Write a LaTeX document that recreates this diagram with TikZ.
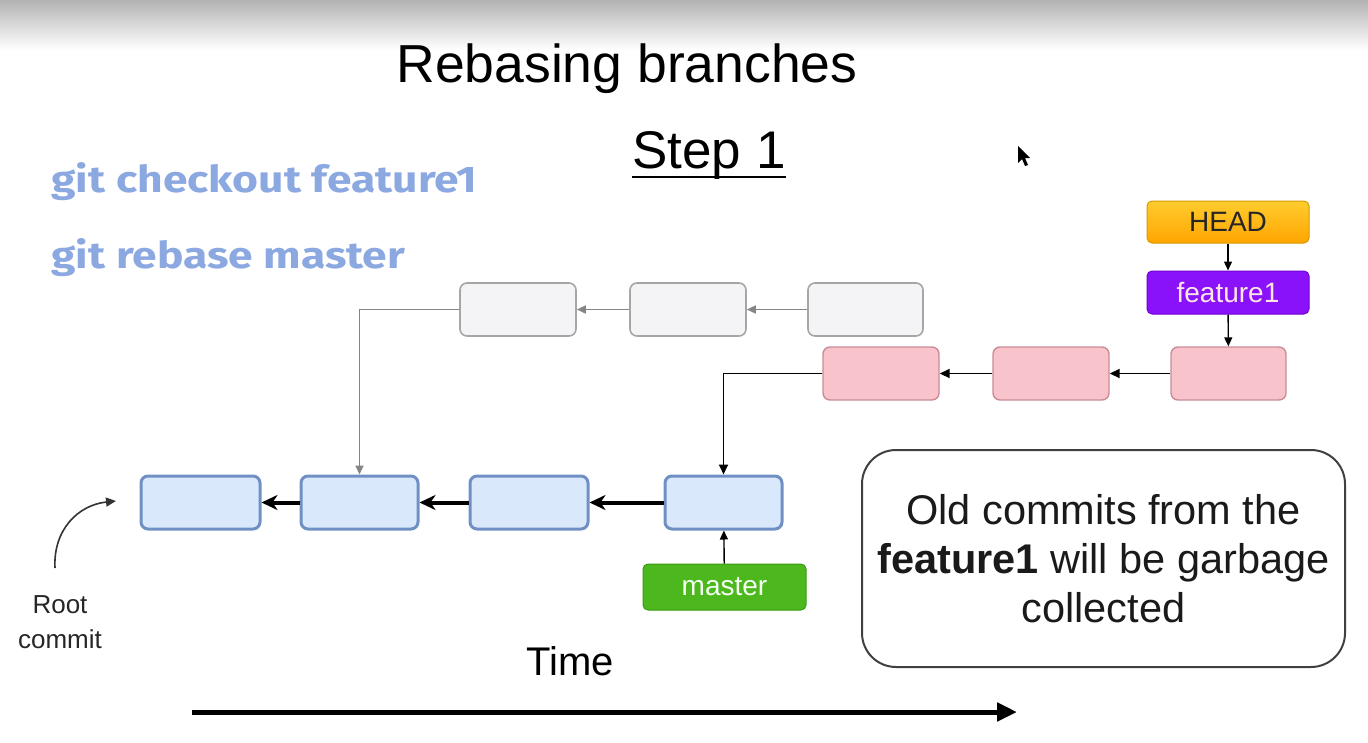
\documentclass[tikz,border=0pt]{standalone}
\usepackage{fontspec}
\setmainfont{Liberation Sans}
\newfontfamily\cmdfont{Fira Sans}[FakeStretch=1.2]
\usetikzlibrary{arrows.meta,calc}
\definecolor{bluefill}{HTML}{DAE8FC}
\definecolor{blueline}{HTML}{7090C4}
\definecolor{greyfill}{HTML}{F4F4F6}
\definecolor{greyline}{HTML}{A6A6A6}
\definecolor{greyarr}{HTML}{858585}
\definecolor{pinkfill}{HTML}{F8C3CB}
\definecolor{pinkline}{HTML}{C98C96}
\definecolor{headtop}{HTML}{FFCC2E}
\definecolor{headbot}{HTML}{FFA500}
\definecolor{headline}{HTML}{D99A00}
\definecolor{purplefill}{HTML}{8A12FA}
\definecolor{purpleline}{HTML}{7000D0}
\definecolor{greenfill}{HTML}{4DB81D}
\definecolor{greenline}{HTML}{3A9A12}
\definecolor{cmdblue}{HTML}{8CA8E0}
\definecolor{notetext}{HTML}{1A1A1A}
\begin{document}
\begin{tikzpicture}[x=1pt,y=-1pt,
  commit/.style={rectangle, rounded corners=7pt, minimum height=53pt, inner sep=0pt},
  bluecommit/.style={commit, fill=bluefill, draw=blueline, line width=3pt},
  greycommit/.style={commit, fill=greyfill, draw=greyline, line width=1.6pt},
  pinkcommit/.style={commit, fill=pinkfill, draw=pinkline, line width=1.4pt},
  label/.style={rectangle, rounded corners=5pt, minimum width=162pt, inner sep=0pt, font=\fontsize{28}{30}\selectfont},
  bluearrow/.style={line width=4pt, -{Stealth[length=16pt,width=15pt,inset=5pt]}},
  greyarrow/.style={draw=greyarr, line width=1.6pt, -{Triangle[length=9pt,width=8pt]}, greyarr},
  blackarrow/.style={draw=black, line width=1.8pt, -{Triangle[length=10pt,width=9pt]}},
  thinarrow/.style={draw=black, line width=1.4pt, -{Triangle[length=9pt,width=8pt]}},
  cmd/.style={text=cmdblue, anchor=base west, font=\cmdfont\bfseries\fontsize{37}{40}\selectfont},
  sans/.style={font=\fontsize{#1}{#1}\selectfont}
]
\useasboundingbox (0,0) rectangle (1368,742);
\shade[top color=black!30, bottom color=white] (0,0) rectangle (1368,50);

% titles
\node[sans=53.5, anchor=base] (title) at (627,82) {Rebasing branches};
\node[sans=53, anchor=base, inner sep=0pt] (step) at (709,168) {Step 1};
\draw[line width=2.6pt] ($(step.base west)+(0,9)$) -- ($(step.base east)+(0,9)$);

% commands
\node[cmd] (cmd1) at (48,192) {git checkout feature1};
\node[cmd] (cmd2) at (48,268) {git rebase master};

% cursor
\fill[black] (1018,146) -- (1018,163) -- (1022,159) -- (1025,166) -- (1028,165) -- (1025,158) -- (1030,158) -- cycle;

% blue commits
\node[bluecommit, minimum width=119pt] (b1) at (200.5,502.5) {};
\node[bluecommit, minimum width=117pt] (b2) at (359.5,502.5) {};
\node[bluecommit, minimum width=118pt] (b3) at (529,502.5) {};
\node[bluecommit, minimum width=117pt] (b4) at (723.5,502.5) {};

% grey commits
\node[greycommit, minimum width=116pt] (g1) at (518,309.5) {};
\node[greycommit, minimum width=116pt] (g2) at (688,309.5) {};
\node[greycommit, minimum width=115pt] (g3) at (865.5,309.5) {};

% pink commits
\node[pinkcommit, minimum width=116pt] (p1) at (881,373.5) {};
\node[pinkcommit, minimum width=116pt] (p2) at (1051,373.5) {};
\node[pinkcommit, minimum width=115pt] (p3) at (1228.5,373.5) {};

% labels
\node[label, minimum height=42pt, top color=headtop, bottom color=headbot, draw=headline, line width=1pt, text=black!85] (head) at (1228,222) {HEAD};
\node[label, minimum height=43pt, fill=purplefill, draw=purpleline, line width=1pt, text=pink!40] (feat) at (1228,292.5) {feature1};
\node[label, minimum height=46pt, minimum width=163pt, fill=greenfill, draw=greenline, line width=1pt, text=green!5] (master) at (724.5,587) {master};

% note
\node[rectangle, rounded corners=34pt, draw=black!75, line width=2pt, minimum width=483pt, minimum height=217pt, align=center, text=notetext, font=\fontsize{41.5}{49}\selectfont] (note) at (1103.5,558.5) {Old commits from the\\\textbf{feature1} will be garbage\\collected};

% other texts
\node[sans=26, align=center, text=black!85, font=\fontsize{26}{35}\selectfont] (root) at (60,622) {Root\\commit};
\node[sans=40, anchor=base] (time) at (570,675) {Time};

% connectors
\draw[bluearrow] (b4) -- (b3);
\draw[bluearrow] (b3) -- (b2);
\draw[bluearrow] (b2) -- (b1);
\draw[greyarrow] (g3) -- (g2);
\draw[greyarrow] (g2) -- (g1);
\draw[greyarrow] (g1.west) -| (b2.north);
\draw[blackarrow] (p3) -- (p2);
\draw[blackarrow] (p2) -- (p1);
\draw[blackarrow] (p1.west) -| (b4.north);
\draw[thinarrow] (head) -- (feat);
\draw[thinarrow] (feat) -- (p3);
\draw[thinarrow] (master) -- (b4);

\coordinate (rc0) at (55,568);
\coordinate (rc1) at (116,501);
\draw[line width=1.6pt, black!80, -{Triangle[length=10pt,width=9pt]}] (rc0) .. controls (53,530) and (78,505) .. (rc1);

\coordinate (t0) at (192,712);
\coordinate (t1) at (1017,712);
\draw[line width=5pt, -{Triangle[length=20pt,width=18pt]}] (t0) -- (t1);
\end{tikzpicture}
\end{document}
